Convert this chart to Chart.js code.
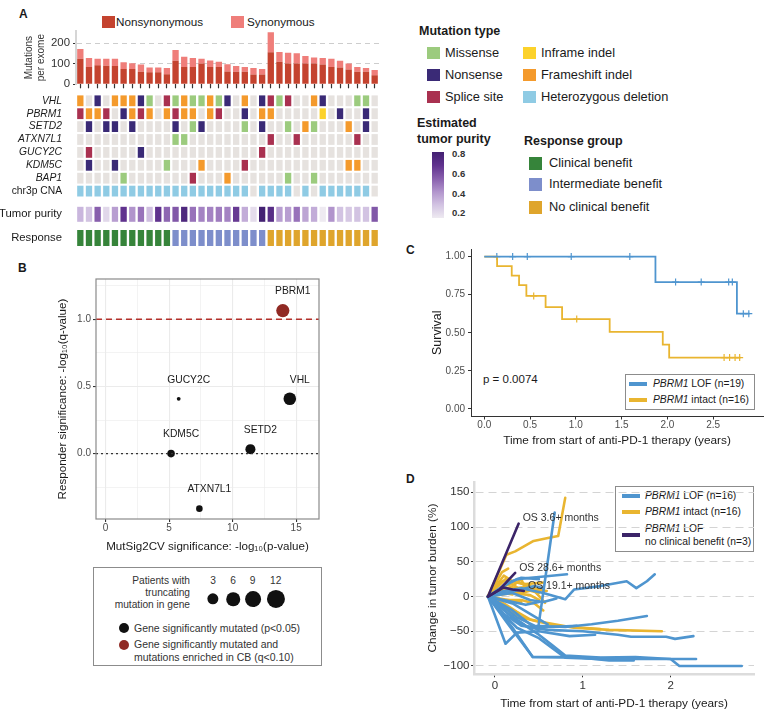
<!DOCTYPE html>
<html>
<head>
<meta charset="utf-8">
<title>PBRM1 figure</title>
<script src="https://cdn.jsdelivr.net/npm/chart.js@4.4.1/dist/chart.umd.min.js"></script>
<style>
  body { margin: 0; background: #fff; }
  #fig { position: relative; width: 771px; height: 716px; overflow: hidden;
         font-family: "Liberation Sans", Arial, sans-serif; color: #1a1a1a; }
  #fig canvas { position: absolute; }
  .tx { position: absolute; white-space: nowrap; line-height: 1; transform: translateY(-50%); }
  .b { font-weight: bold; }
  .sw { position: absolute; }
  .box { position: absolute; border: 1.5px solid #8c8c8c; box-sizing: border-box; }
  .dot { position: absolute; border-radius: 50%; transform: translate(-50%, -50%); }
  .ctr { transform: translate(-50%, -50%); }
</style>
</head>
<body>
<div id="fig">
  <!-- panel letters -->
  <div class="tx b" style="left:19px;top:14px;font-size:12px">A</div>
  <div class="tx b" style="left:18px;top:268px;font-size:12px">B</div>
  <div class="tx b" style="left:406px;top:250px;font-size:12px">C</div>
  <div class="tx b" style="left:406px;top:479px;font-size:12px">D</div>

  <!-- A: bar legend -->
  <div class="sw" style="left:102px;top:16px;width:12.5px;height:12px;background:#C4432F"></div>
  <div class="tx" style="left:116px;top:22px;font-size:11.7px">Nonsynonymous</div>
  <div class="sw" style="left:231px;top:16px;width:13px;height:12px;background:#EF7E7A"></div>
  <div class="tx" style="left:247px;top:22px;font-size:11.7px">Synonymous</div>

  <!-- A: mutation type legend -->
  <div class="tx b" style="left:419px;top:31px;font-size:12.5px">Mutation type</div>
  <div class="sw" style="left:427px;top:47px;width:13px;height:12px;background:#9CCB7E"></div>
  <div class="tx" style="left:445px;top:53px;font-size:12.8px">Missense</div>
  <div class="sw" style="left:427px;top:69px;width:13px;height:12px;background:#3A2A76"></div>
  <div class="tx" style="left:445px;top:75px;font-size:12.8px">Nonsense</div>
  <div class="sw" style="left:427px;top:91px;width:13px;height:12px;background:#A93150"></div>
  <div class="tx" style="left:445px;top:97px;font-size:12.8px">Splice site</div>
  <div class="sw" style="left:523px;top:47px;width:13px;height:12px;background:#FCD22B"></div>
  <div class="tx" style="left:541px;top:53px;font-size:12.8px">Inframe indel</div>
  <div class="sw" style="left:523px;top:69px;width:13px;height:12px;background:#F49A2C"></div>
  <div class="tx" style="left:541px;top:75px;font-size:12.8px">Frameshift indel</div>
  <div class="sw" style="left:523px;top:91px;width:13px;height:12px;background:#8FCBE4"></div>
  <div class="tx" style="left:541px;top:97px;font-size:12.8px">Heterozygous deletion</div>

  <!-- A: purity colour bar -->
  <div class="tx b" style="left:417px;top:123px;font-size:12.5px">Estimated</div>
  <div class="tx b" style="left:417px;top:139px;font-size:12.5px">tumor purity</div>
  <div id="purityBar" class="sw" style="left:432px;top:152px;width:12px;height:66px"></div>
  <div class="tx b" style="left:452px;top:154px;font-size:9.5px;color:#333">0.8</div>
  <div class="tx b" style="left:452px;top:173.5px;font-size:9.5px;color:#333">0.6</div>
  <div class="tx b" style="left:452px;top:193.5px;font-size:9.5px;color:#333">0.4</div>
  <div class="tx b" style="left:452px;top:212.7px;font-size:9.5px;color:#333">0.2</div>

  <!-- A: response legend -->
  <div class="tx b" style="left:524px;top:141px;font-size:12.5px">Response group</div>
  <div class="sw" style="left:529px;top:157px;width:13px;height:13px;background:#36843A"></div>
  <div class="tx" style="left:549px;top:163px;font-size:12.8px">Clinical benefit</div>
  <div class="sw" style="left:529px;top:178px;width:13px;height:13px;background:#7D8ECB"></div>
  <div class="tx" style="left:549px;top:184px;font-size:12.8px">Intermediate benefit</div>
  <div class="sw" style="left:529px;top:201px;width:13px;height:13px;background:#DFA52C"></div>
  <div class="tx" style="left:549px;top:207px;font-size:12.8px">No clinical benefit</div>

  <!-- B: size / colour legend -->
  <div class="box" style="left:93px;top:567px;width:229px;height:99px"></div>
  <div class="tx" style="left:90px;width:100px;text-align:right;top:581px;font-size:10.2px;color:#333">Patients with</div>
  <div class="tx" style="left:90px;width:100px;text-align:right;top:593px;font-size:10.2px;color:#333">truncating</div>
  <div class="tx" style="left:90px;width:100px;text-align:right;top:605px;font-size:10.2px;color:#333">mutation in gene</div>
  <div id="sizeKey"></div>
  <div class="dot" style="left:124px;top:628px;width:10px;height:10px;background:#111"></div>
  <div class="tx" style="left:134px;top:628px;font-size:10.5px;color:#333">Gene significantly mutated (p&lt;0.05)</div>
  <div class="dot" style="left:124px;top:645px;width:10px;height:10px;background:#902A24"></div>
  <div class="tx" style="left:134px;top:644px;font-size:10.5px;color:#333">Gene significantly mutated and</div>
  <div class="tx" style="left:134px;top:657px;font-size:10.5px;color:#333">mutations enriched in CB (q&lt;0.10)</div>

  <!-- C: p value and legend -->
  <div class="tx" style="left:483px;top:380px;font-size:11.5px">p = 0.0074</div>
  <div class="box" style="left:625px;top:374px;width:130px;height:36px"></div>
  <div class="sw" style="left:629px;top:382px;width:18px;height:4px;background:#4F95CF"></div>
  <div class="tx" style="left:653px;top:384px;font-size:10.3px"><i>PBRM1</i> LOF (n=19)</div>
  <div class="sw" style="left:629px;top:398px;width:18px;height:4px;background:#E9B530"></div>
  <div class="tx" style="left:653px;top:400px;font-size:10.3px"><i>PBRM1</i> intact (n=16)</div>

  <!-- D: legend -->
  <div class="box" style="left:615px;top:486px;width:139px;height:66px"></div>
  <div class="sw" style="left:622px;top:494px;width:18px;height:4px;background:#4F95CF"></div>
  <div class="tx" style="left:645px;top:496px;font-size:10.3px"><i>PBRM1</i> LOF (n=16)</div>
  <div class="sw" style="left:622px;top:510px;width:18px;height:4px;background:#E9B530"></div>
  <div class="tx" style="left:645px;top:512px;font-size:10.3px"><i>PBRM1</i> intact (n=16)</div>
  <div class="sw" style="left:622px;top:533px;width:18px;height:4px;background:#3B2468"></div>
  <div class="tx" style="left:645px;top:529px;font-size:10.3px"><i>PBRM1</i> LOF</div>
  <div class="tx" style="left:645px;top:542px;font-size:10.3px">no clinical benefit (n=3)</div>

  <canvas id="barsA" width="390" height="66" style="left:0;top:28px"></canvas>
  <canvas id="tilesA" width="390" height="160" style="left:0;top:94px"></canvas>
  <canvas id="chartB" width="340" height="300" style="left:0;top:262px"></canvas>
  <canvas id="chartC" width="371" height="215" style="left:400px;top:240px"></canvas>
  <canvas id="chartD" width="371" height="246" style="left:400px;top:470px"></canvas>
</div>

<script>
// ---------------- panel A data ----------------
const patients = Array.from({ length: 35 }, (_, i) => 'P' + (i + 1));
const nonsynonymous = [125, 85, 93, 90, 89, 75, 75, 61, 59, 59, 49, 115, 84, 84, 102, 84, 84, 62, 61, 61,
                       48, 48, 156, 110, 102, 102, 102, 102, 97, 85, 82, 72, 61, 61, 44];
const synonymous = [47, 43, 32, 35, 36, 33, 28, 36, 23, 23, 30, 52, 50, 44, 23, 32, 26, 36, 28, 23,
                    32, 27, 98, 47, 52, 49, 36, 29, 31, 40, 33, 30, 24, 19, 26];
const mutTicks = [0, 100, 200];

// M missense, N nonsense, S splice site, I inframe indel, F frameshift indel, H het. deletion, . none
const geneNames = ['VHL', 'PBRM1', 'SETD2', 'ATXN7L1', 'GUCY2C', 'KDM5C', 'BAP1'];
const geneCalls = [
  'F.N.FFFNM.SMFMMFMN.F.NSMS..FN...MM.',
  'SFFS.NFSF.FSFF.FS..N.FF.....I.N..N.',
  '.N.NN.N....N.MN....M.N..M.FM...F.N.',
  '...........MM.........S..S......S..',
  '.S.....N.............S.............',
  '.N..N.....M...F....S...........FF..',
  '.....M.......S...F......M..M.......'
];
const chr3pCalls = 'HHHHHHHHHHHHHHHHHHHH.HHHH.H.HHHHHH.';
const purity = [0.35, 0.3, 0.6, 0.22, 0.42, 0.72, 0.45, 0.55, 0.32, 0.72, 0.58, 0.62, 0.78, 0.55, 0.5,
                0.5, 0.52, 0.5, 0.7, 0.38, 0.2, 0.82, 0.75, 0.42, 0.42, 0.55, 0.4, 0.38, 0.15, 0.45,
                0.3, 0.28, 0.3, 0.3, 0.62];
// C clinical benefit, I intermediate benefit, N no clinical benefit
const responseGroup = 'CCCCCCCCCCCIIIIIIIIIIINNNNNNNNNNNNN';

// ---------------- panel B data ----------------
const sigGenes = ['PBRM1', 'VHL', 'GUCY2C', 'KDM5C', 'SETD2', 'ATXN7L1'];
const mutsigScore = [13.95, 14.5, 5.75, 5.15, 11.4, 7.38];
const responderScore = [1.065, 0.408, 0.408, 0.0, 0.033, -0.41];
const truncPatients = [12, 11, 1, 4, 7, 3];
const enrichedInCB = [true, false, false, false, false, false];
const qThreshold = 1.0;
const sizeKey = [3, 6, 9, 12];

// ---------------- panel C data ----------------
const lofTimes = [0, 1.87, 2.76, 2.9];
const lofSurv = [1, 0.833, 0.625, 0.625];
const lofCensor = [0.137, 0.31, 0.47, 0.95, 1.59, 2.09, 2.37, 2.67, 2.71, 2.83, 2.89];
const intactTimes = [0, 0.14, 0.30, 0.38, 0.46, 0.67, 0.85, 1.37, 1.95, 2.02, 2.8];
const intactSurv = [1, 0.9375, 0.875, 0.8125, 0.742, 0.668, 0.59, 0.506, 0.422, 0.337, 0.337];
const intactCensor = [0.54, 1.01, 2.62, 2.68, 2.74, 2.79];

// ---------------- panel D data ----------------
const lofLines = [
  [[-0.08, 0], [0.15, -25], [0.35, -42], [0.49, -47], [0.6, 50], [0.68, 121]],
  [[-0.08, 0], [0.1, 8], [0.3, 12], [0.55, 5], [0.8, -4], [0.9, 10], [1.2, 15], [1.5, 22], [1.61, 12], [1.73, 22], [1.82, 32]],
  [[-0.08, 0], [0.1, 15], [0.25, 25], [0.5, 28], [0.82, 32]],
  [[-0.08, 0], [0.1, -15], [0.25, -30], [0.45, -42], [0.8, -44], [1.1, -40], [1.4, -35], [1.73, -28]],
  [[-0.08, 0], [0.1, -25], [0.3, -42], [0.6, -48], [1.0, -50], [1.4, -55], [1.55, -58], [1.95, -58], [2.05, -61], [2.26, -57]],
  [[-0.08, 0], [0.12, -68], [0.25, -52], [0.5, -50], [0.85, -57], [1.14, -55]],
  [[-0.08, 0], [0.15, -40], [0.3, -65], [0.43, -87], [1.0, -88], [1.5, -90], [2.29, -90]],
  [[-0.08, 0], [0.2, -30], [0.5, -55], [0.65, -70], [0.8, -85], [1.2, -88], [1.6, -87], [2.0, -90], [2.1, -100], [2.81, -100]],
  [[-0.08, 0], [0.2, -45], [0.43, -87], [0.9, -87], [1.3, -92], [1.58, -92]],
  [[-0.08, 0], [0.2, -20], [0.45, -45], [0.93, -42]],
  [[-0.08, 0], [0.2, 5], [0.4, -5], [0.55, -8], [0.7, -3]],
  [[-0.08, 0], [0.3, 10], [0.45, 15], [0.55, 12]],
  [[-0.08, 0], [0.2, -10], [0.4, -25], [0.6, -40]],
  [[-0.08, 0], [0.1, -5], [0.35, -12], [0.5, -8]],
  [[-0.08, 0], [0.15, 20], [0.3, 27], [0.5, 25]],
  [[-0.08, 0], [0.05, -20], [0.25, -45], [0.5, -60], [0.8, -88], [1.2, -90], [1.6, -89]]
];
const intactLines = [
  [[-0.08, 0], [0.13, 60], [0.23, 65], [0.44, 80], [0.63, 85], [0.72, 87], [0.8, 142]],
  [[-0.08, 0], [0.1, -10], [0.25, -22], [0.4, -33], [0.6, -38], [0.9, -45], [1.3, -48], [1.9, -50]],
  [[-0.08, 0], [0.12, 25], [0.25, 20], [0.4, 15], [0.57, -9]],
  [[-0.08, 0], [0.15, 10], [0.3, 5], [0.45, 10], [0.59, 8]],
  [[-0.08, 0], [0.1, 30], [0.2, 22], [0.35, 18], [0.55, 20]],
  [[-0.08, 0], [0.1, -12], [0.21, -28]],
  [[-0.08, 0], [0.1, 15], [0.2, 18], [0.28, 10]],
  [[-0.08, 0], [0.05, 20], [0.15, 25]],
  [[-0.08, 0], [0.2, 5], [0.4, 2], [0.5, -5]],
  [[-0.08, 0], [0.1, -5], [0.3, -5], [0.45, -10], [0.55, -20]],
  [[-0.08, 0], [0.08, 35], [0.15, 40]],
  [[-0.08, 0], [0.2, 12], [0.4, 14], [0.52, 12]],
  [[-0.08, 0], [0.15, -5], [0.3, -8]],
  [[-0.08, 0], [0.1, 5], [0.2, 3]],
  [[-0.08, 0], [0.12, -18], [0.3, -30], [0.45, -35], [0.7, -42], [1.0, -45], [1.2, -47]],
  [[-0.08, 0], [0.2, 15], [0.3, 25], [0.35, 10], [0.5, 5]]
];
const ncbLines = [
  [[-0.08, 0], [0.27, 105]],
  [[-0.08, 0], [0.05, 10], [0.23, 34]],
  [[-0.08, 0], [0.1, 13], [0.2, 10], [0.33, 8]]
];
const osLabels = ['OS 3.6+ months', 'OS 28.6+ months', 'OS 19.1+ months'];

// ---------------- styling ----------------
const FONT = '"Liberation Sans", Arial, sans-serif';
Chart.defaults.font.family = FONT;
Chart.defaults.color = '#1a1a1a';
Chart.defaults.animation = false;
Chart.defaults.responsive = false;
Chart.defaults.plugins.legend.display = false;
Chart.defaults.plugins.tooltip.enabled = false;

const mutColors = { M: '#9CCB7E', N: '#3A2A76', S: '#A93150', I: '#FCD22B', F: '#F49A2C', H: '#8FCBE4', '.': '#E6E2DF' };
const responseColors = { C: '#36843A', I: '#7D8ECB', N: '#DFA52C' };
const purityStops = [[0.15, [238, 234, 241]], [0.35, [201, 182, 221]], [0.55, [152, 114, 186]],
                     [0.72, [96, 50, 142]], [0.85, [58, 28, 106]]];
const lofBlue = '#4F95CF', intactYellow = '#E9B530', ncbNavy = '#3B2468';

function purityColor(v) {
  if (v <= purityStops[0][0]) return 'rgb(' + purityStops[0][1].join(',') + ')';
  for (let i = 1; i < purityStops.length; i++) {
    const [v1, c1] = purityStops[i], [v0, c0] = purityStops[i - 1];
    if (v <= v1) {
      const t = (v - v0) / (v1 - v0);
      return 'rgb(' + c0.map((c, k) => Math.round(c + (c1[k] - c) * t)).join(',') + ')';
    }
  }
  return 'rgb(' + purityStops[purityStops.length - 1][1].join(',') + ')';
}

// fixed axis sizes; drop the label overhang padding so plot areas sit where the layout says
const fixW = w => s => { s.width = w; s.paddingTop = 0; s.paddingBottom = 0; };
const fixH = h => s => { s.height = h; s.paddingLeft = 0; s.paddingRight = 0; };
const setTicks = vals => s => { s.ticks = vals.map(v => ({ value: v })); };

// colour bar for purity legend (0.146 at bottom, 0.82 at top)
document.getElementById('purityBar').style.background =
  'linear-gradient(to top,' + [0.146, 0.3, 0.45, 0.6, 0.72, 0.82].map(purityColor).join(',') + ')';

// size key for panel B legend
(function () {
  const xs = [213, 233, 252.7, 275.7];
  let html = '';
  sizeKey.forEach((n, i) => {
    const d = 2 * (4.5 + 0.38 * n);
    html += '<div class="tx ctr" style="left:' + xs[i] + 'px;top:581px;font-size:10.2px;color:#333">' + n + '</div>';
    html += '<div class="dot" style="left:' + xs[i] + 'px;top:599px;width:' + d + 'px;height:' + d + 'px;background:#111"></div>';
  });
  document.getElementById('sizeKey').innerHTML = html;
})();

// ---------------- A: mutation burden bars ----------------
new Chart(document.getElementById('barsA'), {
  type: 'bar',
  data: {
    labels: patients,
    datasets: [
      { label: 'Nonsynonymous', data: nonsynonymous, backgroundColor: '#C4432F', barPercentage: 0.73, categoryPercentage: 1 },
      { label: 'Synonymous', data: synonymous, backgroundColor: '#EF7E7A', barPercentage: 0.73, categoryPercentage: 1 }
    ]
  },
  options: {
    layout: { padding: { top: 3, right: 11 } },
    scales: {
      x: {
        stacked: true,
        ticks: { display: false },
        border: { display: false },
        grid: { offset: false, drawOnChartArea: false, tickLength: 4, tickColor: '#333', tickWidth: 1.2 },
        afterFit: fixH(9.7)
      },
      y: {
        stacked: true, min: 0, max: 260,
        afterBuildTicks: setTicks(mutTicks),
        afterFit: fixW(76),
        ticks: { padding: 3, font: { size: 11.4 }, color: '#333' },
        grid: { color: c => (c.tick && c.tick.value === 0 ? 'rgba(0,0,0,0)' : '#CDCDCD'), tickColor: '#333', tickLength: 3 },
        border: { color: '#D6D6D6', width: 2, dash: [5, 4] },
        title: { display: true, text: ['Mutations', 'per exome'], font: { size: 10 }, color: '#333', padding: { top: 23 } }
      }
    }
  }
});

// ---------------- A: oncoprint tiles ----------------
const GENE_Y0 = 6.8, GENE_PITCH = 12.9, GENE_H = 10.8;
const PURITY_Y = 120.3, PURITY_H = 15, RESP_Y = 144, RESP_H = 16;

function tileRow(colors, center, h) {
  return {
    data: patients.map(() => [center - h / 2, center + h / 2]),
    backgroundColor: colors, grouped: false,
    barPercentage: 0.73, categoryPercentage: 1, borderWidth: 0
  };
}
const rowCalls = geneCalls.concat([chr3pCalls]);
const rowCenters = rowCalls.map((_, i) => GENE_Y0 + i * GENE_PITCH).concat([PURITY_Y, RESP_Y]);
const rowLabels = geneNames.concat(['chr3p CNA', 'Tumor purity', 'Response']);
const tileSets = rowCalls.map((calls, i) => tileRow(calls.split('').map(c => mutColors[c]), rowCenters[i], GENE_H));
tileSets.push(tileRow(purity.map(purityColor), PURITY_Y, PURITY_H));
tileSets.push(tileRow(responseGroup.split('').map(c => responseColors[c]), RESP_Y, RESP_H));

new Chart(document.getElementById('tilesA'), {
  type: 'bar',
  data: { labels: patients, datasets: tileSets },
  options: {
    layout: { padding: { right: 11 } },
    scales: {
      x: { display: false },
      y: {
        type: 'linear', min: 0, max: 160, reverse: true,
        afterBuildTicks: setTicks(rowCenters),
        afterFit: fixW(76),
        grid: { display: false }, border: { display: false },
        ticks: {
          autoSkip: false, padding: 6, color: '#1a1a1a',
          callback: (v, i) => rowLabels[i],
          font: c => ({ size: c.index < 8 ? 10.3 : 11.3, style: c.index < 7 ? 'italic' : 'normal' })
        }
      }
    }
  }
});

// ---------------- B: significance bubble plot ----------------
const bX = [-0.76, 16.8];
const bXTicks = [0, 2.5, 5, 7.5, 10, 12.5, 15];
const bYTicks = [-0.25, 0, 0.25, 0.5, 0.75, 1, 1.25];

const panelBorder = {
  id: 'panelBorder',
  afterDatasetsDraw(chart) {
    const { ctx, chartArea: a } = chart;
    ctx.save();
    ctx.strokeStyle = '#8a8a8a';
    ctx.lineWidth = 1.2;
    ctx.strokeRect(a.left, a.top, a.right - a.left, a.bottom - a.top);
    ctx.restore();
  }
};
const geneLabels = {
  id: 'geneLabels',
  afterDatasetsDraw(chart) {
    const { ctx } = chart;
    const meta = chart.getDatasetMeta(2);
    ctx.save();
    ctx.font = '10.3px ' + FONT;
    ctx.fillStyle = '#1a1a1a';
    ctx.textAlign = 'center';
    ctx.textBaseline = 'middle';
    meta.data.forEach((el, i) => ctx.fillText(sigGenes[i], el.x + 10, el.y - 19));
    ctx.restore();
  }
};

new Chart(document.getElementById('chartB'), {
  type: 'bubble',
  data: {
    datasets: [
      { type: 'line', data: [{ x: bX[0], y: qThreshold }, { x: bX[1], y: qThreshold }],
        borderColor: '#B3312A', borderWidth: 1.4, borderDash: [6, 4], pointRadius: 0 },
      { type: 'line', data: [{ x: bX[0], y: 0 }, { x: bX[1], y: 0 }],
        borderColor: '#333', borderWidth: 1.2, borderDash: [2, 3], pointRadius: 0 },
      { data: sigGenes.map((g, i) => ({ x: mutsigScore[i], y: responderScore[i], r: 1.9 * Math.sqrt(truncPatients[i]) })),
        backgroundColor: enrichedInCB.map(e => (e ? '#902A24' : '#111')), borderWidth: 0 }
    ]
  },
  plugins: [panelBorder, geneLabels],
  options: {
    layout: { padding: { top: 17, right: 21 } },
    scales: {
      x: {
        type: 'linear', min: bX[0], max: bX[1],
        afterBuildTicks: setTicks(bXTicks), afterFit: fixH(43),
        ticks: { padding: 0, font: { size: 10 }, color: '#4D4D4D', callback: v => (v % 5 === 0 ? v : '') },
        grid: { color: '#EBEBEB', lineWidth: c => (c.tick && c.tick.value % 5 === 0 ? 1.1 : 0.6),
                tickColor: c => (c.tick && c.tick.value % 5 === 0 ? '#333' : 'rgba(0,0,0,0)'), tickLength: 3 },
        border: { display: false },
        title: { display: true, text: 'MutSig2CV significance: -log\u2081\u2080(p-value)', font: { size: 11.6 }, padding: { top: 0, bottom: 8 } }
      },
      y: {
        type: 'linear', min: -0.487, max: 1.30,
        afterBuildTicks: setTicks(bYTicks), afterFit: fixW(96),
        ticks: { padding: 2, font: { size: 10 }, color: '#4D4D4D', callback: v => (v % 0.5 === 0 ? v.toFixed(1) : '') },
        grid: { color: '#EBEBEB', lineWidth: c => (c.tick && c.tick.value % 0.5 === 0 ? 1.1 : 0.6),
                tickColor: c => (c.tick && c.tick.value % 0.5 === 0 ? '#333' : 'rgba(0,0,0,0)'), tickLength: 3 },
        border: { display: false },
        title: { display: true, text: 'Responder significance: -log\u2081\u2080(q-value)', font: { size: 11.6 }, padding: { top: 55.8 } }
      }
    }
  }
});

// ---------------- C: Kaplan-Meier ----------------
function kmAt(times, surv, t) {
  let s = surv[0];
  for (let i = 0; i < times.length; i++) if (times[i] <= t) s = surv[i];
  return s;
}
const kmPts = (times, surv) => times.map((t, i) => ({ x: t, y: surv[i] }));
const censorPts = (times, surv, cens) => cens.map(t => ({ x: t, y: kmAt(times, surv, t) }));

new Chart(document.getElementById('chartC'), {
  type: 'line',
  data: {
    datasets: [
      { data: kmPts(lofTimes, lofSurv), stepped: true, borderColor: lofBlue, borderWidth: 1.8, pointRadius: 0 },
      { data: kmPts(intactTimes, intactSurv), stepped: true, borderColor: intactYellow, borderWidth: 1.8, pointRadius: 0 },
      { type: 'scatter', data: censorPts(lofTimes, lofSurv, lofCensor), pointStyle: 'cross',
        pointRadius: 3.5, borderColor: lofBlue, borderWidth: 1.2 },
      { type: 'scatter', data: censorPts(intactTimes, intactSurv, intactCensor), pointStyle: 'cross',
        pointRadius: 3.5, borderColor: intactYellow, borderWidth: 1.2 }
    ]
  },
  options: {
    layout: { padding: { top: 9, right: 8 } },
    scales: {
      x: {
        type: 'linear', min: -0.145, max: 3.045,
        afterBuildTicks: setTicks([0, 0.5, 1, 1.5, 2, 2.5]), afterFit: fixH(38.5),
        ticks: { padding: 0, font: { size: 10 }, color: '#4D4D4D', callback: v => v.toFixed(1) },
        grid: { drawOnChartArea: false, tickLength: 3, tickColor: '#333' },
        border: { color: '#333', width: 1 },
        title: { display: true, text: 'Time from start of anti-PD-1 therapy (years)', font: { size: 11.8 }, padding: { top: 0, bottom: 6.8 } }
      },
      y: {
        type: 'linear', min: -0.05, max: 1.05,
        afterBuildTicks: setTicks([0, 0.25, 0.5, 0.75, 1]), afterFit: fixW(71),
        ticks: { padding: 3, font: { size: 10 }, color: '#4D4D4D', callback: v => v.toFixed(2) },
        grid: { drawOnChartArea: false, tickLength: 3, tickColor: '#333' },
        border: { color: '#333', width: 1 },
        title: { display: true, text: 'Survival', font: { size: 12.5 }, padding: { top: 30 } }
      }
    }
  }
});

// ---------------- D: spider plot ----------------
const toXY = line => line.map(([x, y]) => ({ x, y }));
const spiderSet = (line, color) => ({
  data: toXY(line), showLine: true, borderColor: color, borderWidth: 2.6,
  pointRadius: 0, borderCapStyle: 'round', borderJoinStyle: 'round'
});
const spiderSets = []
  .concat(ncbLines.map(l => spiderSet(l, ncbNavy)))
  .concat(lofLines.map(l => spiderSet(l, lofBlue)))
  .concat(intactLines.map(l => spiderSet(l, intactYellow)));

const osNotes = {
  id: 'osNotes',
  afterDatasetsDraw(chart) {
    const { ctx } = chart;
    ctx.save();
    ctx.font = '10.5px ' + FONT;
    ctx.fillStyle = '#333';
    ctx.textAlign = 'left';
    ctx.textBaseline = 'middle';
    osLabels.forEach((txt, i) => {
      const pts = chart.getDatasetMeta(i).data;
      const end = pts[pts.length - 1];
      ctx.fillText(txt, end.x + 4, end.y - 5);
    });
    ctx.restore();
  }
};

new Chart(document.getElementById('chartD'), {
  type: 'scatter',
  data: { datasets: spiderSets },
  plugins: [osNotes],
  options: {
    layout: { padding: { top: 11.9, right: 17 } },
    scales: {
      x: {
        type: 'linear', min: -0.239, max: 2.95,
        afterBuildTicks: setTicks([0, 1, 2]), afterFit: fixH(41.7),
        ticks: { padding: 1.5, font: { size: 11.5 }, color: '#333' },
        grid: { drawOnChartArea: false, tickLength: 3, tickColor: '#333' },
        border: { color: '#DCDCDC', width: 2.5 },
        title: { display: true, text: 'Time from start of anti-PD-1 therapy (years)', font: { size: 11.8 }, padding: { top: 0, bottom: 5.5 } }
      },
      y: {
        type: 'linear', min: -112, max: 165,
        afterBuildTicks: setTicks([-100, -50, 0, 50, 100, 150]), afterFit: fixW(74),
        ticks: { padding: 1.5, font: { size: 11.5 }, color: '#333', callback: v => (v < 0 ? '\u2212' + Math.abs(v) : v) },
        grid: { color: '#D4D4D4', tickColor: '#333', tickLength: 3 },
        border: { color: '#DCDCDC', width: 2.5, dash: [8, 5] },
        title: { display: true, text: 'Change in tumor burden (%)', font: { size: 11.8 }, padding: { top: 25.5 } }
      }
    }
  }
});
</script>
</body>
</html>
